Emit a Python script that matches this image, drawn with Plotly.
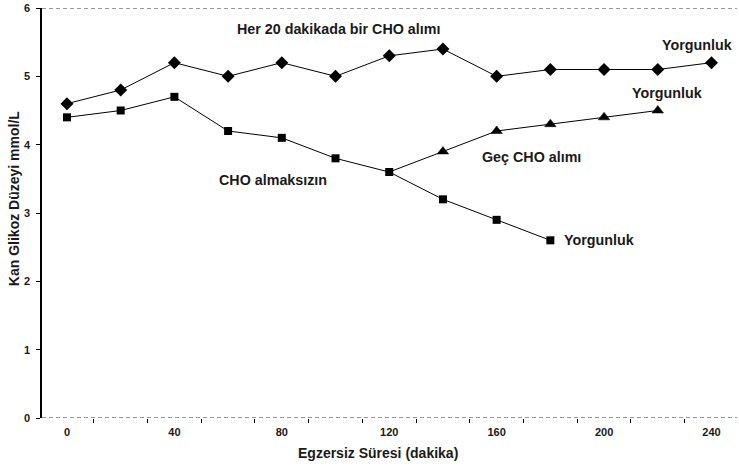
import plotly.graph_objects as go

# Data
minutes_cho20 = [0, 20, 40, 60, 80, 100, 120, 140, 160, 180, 200, 220, 240]
glucose_cho20 = [4.6, 4.8, 5.2, 5.0, 5.2, 5.0, 5.3, 5.4, 5.0, 5.1, 5.1, 5.1, 5.2]

minutes_nocho = [0, 20, 40, 60, 80, 100, 120, 140, 160, 180]
glucose_nocho = [4.4, 4.5, 4.7, 4.2, 4.1, 3.8, 3.6, 3.2, 2.9, 2.6]

minutes_late = [120, 140, 160, 180, 200, 220]
glucose_late = [3.6, 3.9, 4.2, 4.3, 4.4, 4.5]

x_tick_vals = [0, 40, 80, 120, 160, 200, 240]
x_tick_text = ["0", "40", "80", "120", "160", "200", "240"]
y_tick_vals = [0, 1, 2, 3, 4, 5, 6]
y_tick_text = ["0", "1", "2", "3", "4", "5", "6"]

FONT = "Liberation Sans, Arial, sans-serif"
NARROW = "Liberation Sans Narrow, Liberation Sans, Arial, sans-serif"
INK = "#1a1a1a"

fig = go.Figure()

fig.add_trace(go.Scatter(
    x=minutes_late, y=glucose_late, mode="lines+markers",
    line=dict(color="black", width=1),
    marker=dict(symbol="triangle-up", size=[0, 10, 10, 10, 10, 10], color="black",
                opacity=1, line=dict(color="black", width=0.5)),
    showlegend=False, cliponaxis=False))
fig.add_trace(go.Scatter(
    x=minutes_nocho, y=glucose_nocho, mode="lines+markers",
    line=dict(color="black", width=1),
    marker=dict(symbol="square", size=8, color="black"),
    showlegend=False, cliponaxis=False))
fig.add_trace(go.Scatter(
    x=minutes_cho20, y=glucose_cho20, mode="lines+markers",
    line=dict(color="black", width=1),
    marker=dict(symbol="diamond", size=10, color="black"),
    showlegend=False, cliponaxis=False))

# dashed lines at top and bottom
for yv in [0, 6]:
    fig.add_shape(type="line", xref="paper", yref="y", x0=0, x1=1, y0=yv, y1=yv,
                  line=dict(color="#333333", width=1, dash="4px,3px"))

ann_font = dict(family=FONT, size=14.3, color=INK, weight="bold")
texts = [
    ("Her 20 dakikada bir CHO alımı", 101, 5.69, "center"),
    ("Yorgunluk", 248.5, 5.46, "right"),
    ("Yorgunluk", 223.4, 4.76, "center"),
    ("Yorgunluk", 184.3, 2.6, "left"),
    ("Geç CHO alımı", 173, 3.82, "center"),
    ("CHO almaksızın", 76.7, 3.48, "center"),
]
for t, xv, yv, anc in texts:
    fig.add_annotation(x=xv, y=yv, xref="x", yref="y", text=t, showarrow=False,
                       xanchor=anc, yanchor="middle", font=ann_font)

# axis titles
fig.add_annotation(xref="paper", yref="paper", x=-0.041, y=0.535, xanchor="center", yanchor="middle",
                   text="Kan Glikoz Düzeyi mmol/L", textangle=-90, showarrow=False,
                   font=dict(family=FONT, size=14, color=INK, weight="bold"))
fig.add_annotation(xref="paper", yref="paper", x=0.483, y=-0.085, xanchor="center", yanchor="middle",
                   text="Egzersiz Süresi (dakika)", showarrow=False,
                   font=dict(family=FONT, size=14, color=INK, weight="bold"))

fig.update_layout(
    width=739, height=471,
    margin=dict(l=42, r=2, t=8, b=53),
    paper_bgcolor="white", plot_bgcolor="white",
    xaxis=dict(range=[-9.3, 249.5], tickmode="array", tickvals=x_tick_vals, ticktext=x_tick_text,
               ticks="", showgrid=False, zeroline=False, showline=False,
               tickfont=dict(family=NARROW, size=11, color=INK, weight="bold"),
               ticklabelstandoff=6,
               minor=dict(tick0=10, dtick=20, ticks="outside", ticklen=4, tickcolor="black",
                          tickwidth=1, showgrid=False)),
    yaxis=dict(range=[0, 6], tickmode="array", tickvals=y_tick_vals, ticktext=y_tick_text,
               ticks="outside", ticklen=4,
               tickcolor="black", showgrid=False, zeroline=False, showline=True,
               linecolor="black", linewidth=1.5,
               tickfont=dict(family=NARROW, size=11, color=INK, weight="bold"),
               ticklabelstandoff=4),
)

fig.write_html("out.html")
